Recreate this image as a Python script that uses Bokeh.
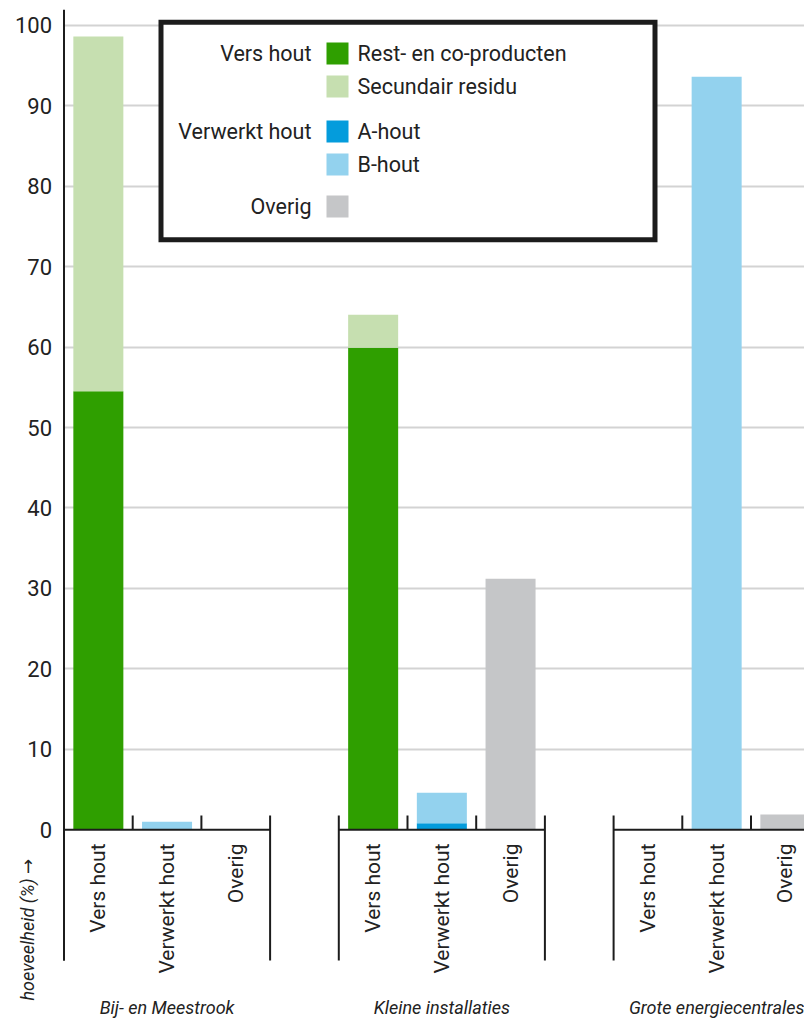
import numpy as np
from bokeh.plotting import figure
from bokeh.models import ColumnDataSource, Range1d, FixedTicker
from bokeh.core.properties import value
from bokeh.embed import file_html
from bokeh.resources import INLINE

# ---------------- data ----------------
groups = ["Bij- en Meestrook", "Kleine installaties", "Grote energiecentrales"]
categories = ["Vers hout", "Verwerkt hout", "Overig"]
series = ["Rest- en co-producten", "Secundair residu", "A-hout", "B-hout", "Overig"]
# values (%) per group
vers_rest = [54.5, 59.9, 0.0]
vers_secundair = [44.1, 4.1, 0.0]
verwerkt_a = [0.0, 0.8, 0.0]
verwerkt_b = [1.0, 3.8, 93.6]
overig = [0.0, 31.2, 1.9]
y_ticks = [0, 10, 20, 30, 40, 50, 60, 70, 80, 90, 100]
colors = ["#2f9f00", "#c6dfb0", "#049cdc", "#93d2ee", "#c5c6c8"]

# ---------------- layout helpers (pixel -> data) ----------------
W, H = 804, 1021
PX_ZERO = 829.3
PX_PER_UNIT = 8.046
SLOT_LEFT = 63.5
SLOT_W = 68.7


def X(px):
    return (px - SLOT_LEFT) / SLOT_W


def Y(py):
    return (PX_ZERO - py) / PX_PER_UNIT


FONT = "Roboto"
TXT = "#222222"
LINE = "#1c1c1c"

# ---------------- source ----------------
xs, r_rest, r_sec, r_a, r_b, r_ov, lab = [], [], [], [], [], [], []
for g in range(len(groups)):
    for c in range(len(categories)):
        xs.append(4 * g + c + 0.5)
        lab.append(categories[c])
        r_rest.append(vers_rest[g] if c == 0 else 0.0)
        r_sec.append(vers_secundair[g] if c == 0 else 0.0)
        r_a.append(verwerkt_a[g] if c == 1 else 0.0)
        r_b.append(verwerkt_b[g] if c == 1 else 0.0)
        r_ov.append(overig[g] if c == 2 else 0.0)

src = ColumnDataSource(dict(x=xs, rest=r_rest, sec=r_sec, a=r_a, b=r_b, ov=r_ov, lab=lab))

p = figure(
    width=W, height=H,
    x_range=Range1d(X(0), X(W)),
    y_range=Range1d(Y(H), Y(0)),
    output_backend="svg", toolbar_location=None,
    x_axis_location=None, y_axis_location="left",
    min_border_left=0, min_border_right=0, min_border_top=0, min_border_bottom=0,
)
p.outline_line_color = None
p.background_fill_color = "white"
p.border_fill_color = "white"

ax = p.yaxis[0]
ax.fixed_location = 0
ax.ticker = FixedTicker(ticks=y_ticks)
ax.axis_line_color = None
ax.major_tick_line_color = None
ax.minor_tick_line_color = None
ax.major_label_standoff = 6
ax.major_label_text_font = FONT
ax.major_label_text_font_size = "22px"
ax.major_label_text_color = TXT

p.xgrid.visible = False
yg = p.ygrid[0]
yg.ticker = FixedTicker(ticks=y_ticks[1:])
yg.cross_bounds = (0, X(W) + 1)
yg.grid_line_color = "#d3d3d3"
yg.grid_line_width = 2

# bars
p.vbar_stack(["rest", "sec", "a", "b", "ov"], x="x", width=0.728, source=src,
             fill_color=colors, line_color=None)

# axis lines and dividers
gx = [4 * g for g in range(len(groups))]
p.segment(x0=gx, y0=0, x1=[v + 3 for v in gx], y1=0, line_color=LINE, line_width=2)
outer = gx + [v + 3 for v in gx]
p.segment(x0=outer, y0=Y(815), x1=outer, y1=Y(960), line_color=LINE, line_width=2)
inner = [v + 1 for v in gx] + [v + 2 for v in gx]
p.segment(x0=inner, y0=Y(815), x1=inner, y1=0, line_color=LINE, line_width=2)
p.segment(x0=[0], y0=[Y(9.3)], x1=[0], y1=[Y(960)], line_color=LINE, line_width=2)

# category labels
p.text(x=xs, y=Y(843), text=lab, angle=np.pi / 2, text_align="right", text_baseline="middle",
       text_font=value(FONT), text_font_size="21px", text_color=TXT)
# group labels
p.text(x=[4 * g + 1.5 for g in range(len(groups))], y=Y(1007), text=groups,
       text_align="center", text_baseline="middle", text_font=value(FONT),
       text_font_style="italic", text_font_size="18px", text_color=TXT)

# y-axis title
p.text(x=[X(27)], y=[Y(1000)], text=["hoeveelheid (%) →"], angle=np.pi / 2,
       text_align="left", text_baseline="middle", text_font=value("Roboto, DejaVu Sans"),
       text_font_style="italic", text_font_size="18px", text_color=TXT)

# legend box
p.quad(left=X(160.5), right=X(654.5), top=Y(21.8), bottom=Y(239.2), fill_color="white",
       line_color=LINE, line_width=5, line_join="miter")
row_y = [Y(53), Y(86), Y(131), Y(164), Y(206)]
p.rect(x=X(337), y=row_y, width=22, height=22, width_units="screen", height_units="screen",
       fill_color=colors, line_color=None)
p.text(x=X(357), y=row_y[:4], text=series[:4], text_align="left", text_baseline="middle",
       text_font=value(FONT), text_font_size="21.5px", text_color=TXT)
p.text(x=X(311), y=[row_y[0], row_y[2], row_y[4]], text=categories, text_align="right",
       text_baseline="middle", text_font=value(FONT), text_font_size="21.5px", text_color=TXT)

open("out.html", "w").write(file_html(p, INLINE))
